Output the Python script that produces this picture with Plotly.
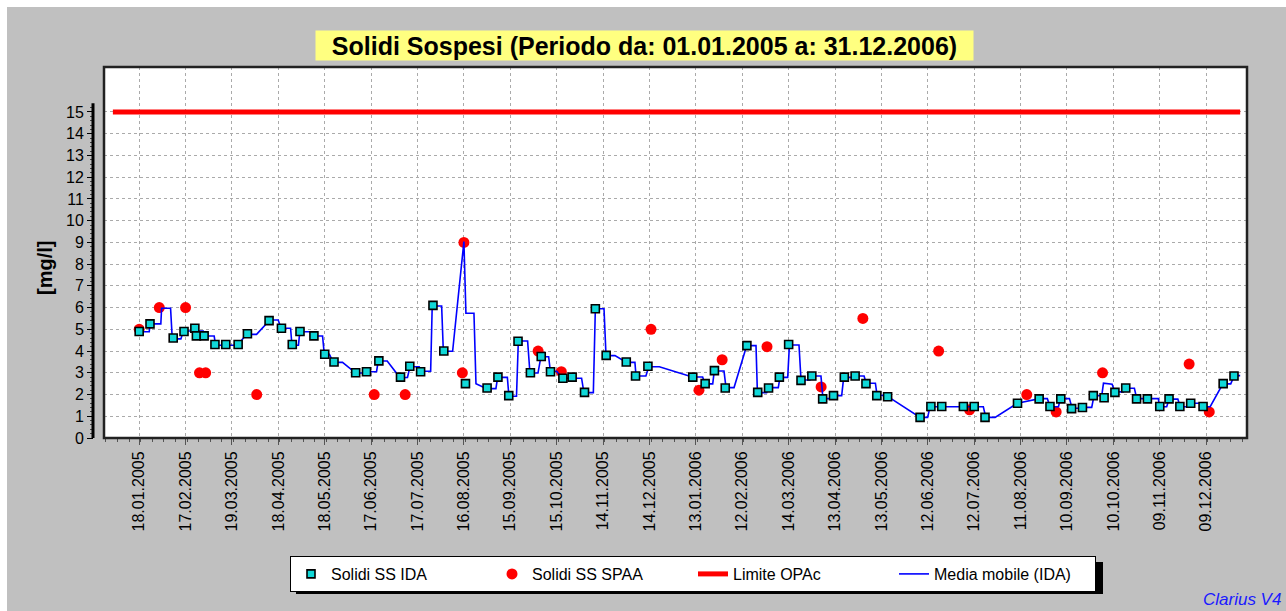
import pandas as pd
import plotly.graph_objects as go

# Solidi SS IDA (weekly samples)
ida_dates = [
    "2005-01-18", "2005-01-25", "2005-02-09", "2005-02-16", "2005-02-23", "2005-02-24", "2005-03-01", "2005-03-08", "2005-03-15", "2005-03-23",
    "2005-03-29", "2005-04-12", "2005-04-20", "2005-04-27", "2005-05-02", "2005-05-11", "2005-05-18", "2005-05-24", "2005-06-07", "2005-06-14",
    "2005-06-22", "2005-07-06", "2005-07-12", "2005-07-19", "2005-07-27", "2005-08-03", "2005-08-17", "2005-08-31", "2005-09-07", "2005-09-14",
    "2005-09-20", "2005-09-28", "2005-10-05", "2005-10-11", "2005-10-19", "2005-10-25", "2005-11-02", "2005-11-09", "2005-11-16", "2005-11-29",
    "2005-12-05", "2005-12-13", "2006-01-11", "2006-01-19", "2006-01-25", "2006-02-01", "2006-02-15", "2006-02-22", "2006-03-01", "2006-03-08",
    "2006-03-14", "2006-03-22", "2006-03-29", "2006-04-05", "2006-04-12", "2006-04-19", "2006-04-26", "2006-05-03", "2006-05-10", "2006-05-17",
    "2006-06-07", "2006-06-14", "2006-06-21", "2006-07-05", "2006-07-12", "2006-07-19", "2006-08-09", "2006-08-23", "2006-08-30", "2006-09-06",
    "2006-09-13", "2006-09-20", "2006-09-27", "2006-10-04", "2006-10-11", "2006-10-18", "2006-10-25", "2006-11-01", "2006-11-09", "2006-11-15",
    "2006-11-22", "2006-11-29", "2006-12-07", "2006-12-20", "2006-12-27",
]
ida_values = [
    4.9, 5.25, 4.6, 4.9, 5.05, 4.7, 4.7, 4.3, 4.3, 4.3,
    4.8, 5.4, 5.05, 4.3, 4.9, 4.7, 3.85, 3.5, 3.0, 3.05,
    3.55, 2.8, 3.3, 3.05, 6.1, 4.0, 2.5, 2.3, 2.8, 1.95,
    4.45, 3.0, 3.75, 3.05, 2.75, 2.8, 2.1, 5.95, 3.8, 3.5,
    2.85, 3.3, 2.8, 2.5, 3.1, 2.3, 4.25, 2.1, 2.3, 2.8,
    4.3, 2.65, 2.85, 1.8, 1.95, 2.8, 2.85, 2.5, 1.95, 1.9,
    0.95, 1.45, 1.45, 1.45, 1.45, 0.95, 1.6, 1.8, 1.45, 1.8,
    1.35, 1.4, 1.95, 1.85, 2.1, 2.3, 1.8, 1.8, 1.45, 1.8,
    1.45, 1.6, 1.45, 2.5, 2.85,
]

# Solidi SS SPAA
spaa_dates = [
    "2005-01-18", "2005-01-31", "2005-02-17", "2005-02-26", "2005-03-02", "2005-04-04", "2005-06-19", "2005-07-09", "2005-08-15", "2005-08-16",
    "2005-10-03", "2005-10-18", "2005-12-15", "2006-01-15", "2006-01-30", "2006-02-28", "2006-04-04", "2006-05-01", "2006-06-19", "2006-07-09",
    "2006-08-15", "2006-09-03", "2006-10-03", "2006-11-28", "2006-12-11",
]
spaa_values = [
    5.0, 6.0, 6.0, 3.0, 3.0, 2.0, 2.0, 2.0, 3.0, 9.0,
    4.0, 3.05, 5.0, 2.2, 3.6, 4.2, 2.35, 5.5, 4.0, 1.3,
    2.0, 1.2, 3.0, 3.4, 1.2,
]

# Limite OPAc
limit_dates = ["2005-01-01", "2006-12-31"]
limit_values = [15, 15]

# Media mobile (IDA): vertices, days since 18.01.2005
ma_days = [
    0, 6.5, 7, 14, 14.5, 20.3, 21.4, 27, 28.5, 41.4,
    42.3, 48.5, 49.4, 63.6, 69.4, 75.9, 84.5, 89.9, 91.7, 97.9,
    98.8, 103, 103.9, 111.5, 112.6, 118.6, 119.7, 123, 125.5, 131.5,
    140, 146, 147.1, 153.5, 154.6, 160.4, 168.6, 173.5, 175.1, 181.1,
    182.4, 188.5, 189.5, 195.6, 196.7, 202.7, 210, 211.3, 216.5, 217.8,
    224.7, 230.7, 231.8, 238.1, 239.1, 244, 245.2, 251.2, 252.7, 257.9,
    259.8, 264.8, 265.9, 270, 273.8, 286.1, 287.6, 293.7, 295, 300.6,
    301.9, 307.7, 315.2, 320.6, 321.3, 327.7, 329.5, 336.4, 357.7, 364.4,
    365.9, 370.9, 371.9, 378.2, 379.5, 384.7, 392.9, 398.9, 399.8, 405.8,
    407.1, 413.3, 414.4, 419.4, 420.5, 426.7, 428, 433.8, 434.9, 440.9,
    442.2, 447.8, 449.1, 454.3, 455.6, 461.9, 463.1, 468.8, 470.1, 476.1,
    477.2, 483.4, 484.5, 505, 509.9, 511.4, 545.9, 547.5, 553.5, 567.9,
    582.2, 587.3, 589.1, 594.5, 595.7, 601.6, 603.3, 609.6, 610.6, 616,
    617.5, 622.5, 623.6, 629.2, 630.9, 636.5, 638.2, 643.6, 645.1, 659.1,
    659.8, 664.5, 666, 671.7, 673.2, 679.6, 680.7, 686.5, 687.8, 692.6,
    700.8, 705.9, 708.1, 712,
]
ma_values = [
    4.89, 4.89, 5.25, 5.25, 5.97, 5.97, 4.56, 4.56, 4.92, 4.92,
    4.69, 4.69, 4.27, 4.27, 4.77, 4.77, 5.43, 5.43, 5.05, 5.05,
    4.27, 4.27, 4.89, 4.89, 4.69, 4.69, 3.85, 3.85, 3.48, 3.48,
    2.99, 2.99, 3.05, 3.05, 3.54, 3.54, 2.78, 2.79, 3.28, 3.28,
    3.07, 3.07, 6.07, 6.07, 3.99, 3.99, 9.04, 5.74, 5.74, 2.5,
    2.27, 2.27, 2.79, 2.79, 1.92, 1.92, 4.46, 4.46, 2.99, 2.99,
    3.74, 3.74, 3.07, 3.07, 2.75, 2.75, 2.09, 2.09, 5.95, 5.95,
    3.79, 3.79, 3.48, 3.48, 2.85, 2.85, 3.28, 3.28, 2.81, 2.81,
    2.49, 2.49, 3.08, 3.08, 2.32, 2.32, 4.25, 4.25, 2.09, 2.09,
    2.32, 2.32, 2.79, 2.79, 4.28, 4.28, 2.67, 2.67, 2.85, 2.85,
    1.81, 1.81, 1.95, 1.95, 2.79, 2.79, 2.85, 2.85, 2.52, 2.52,
    1.96, 1.96, 1.89, 0.95, 0.95, 1.44, 1.44, 0.95, 0.95, 1.60,
    1.81, 1.81, 1.44, 1.44, 1.81, 1.81, 1.37, 1.37, 1.41, 1.41,
    1.95, 1.95, 2.52, 2.47, 2.12, 2.12, 2.29, 2.29, 1.81, 1.81,
    1.44, 1.44, 1.79, 1.79, 1.44, 1.44, 1.60, 1.60, 1.44, 1.44,
    2.49, 2.49, 2.87, 2.87,
]
ma_dates = pd.Timestamp("2005-01-18") + pd.to_timedelta(ma_days, unit="D")

y_ticks = list(range(0, 16))

# page geometry (pixels)
W, H = 1286, 611
ML, MR, MT, MB = 80, 39, 67, 173
PW, PH = W - ML - MR, H - MT - MB


def px(x):
    return (x - ML) / PW


def py(y):
    return (H - MB - y) / PH


FONT = "Liberation Sans, Arial, sans-serif"
DAY = 86400000

fig = go.Figure()

fig.add_trace(go.Scatter(
    x=limit_dates, y=limit_values, mode="lines", name="Limite OPAc",
    line=dict(color="#ff0000", width=5), legendrank=3,
))
fig.add_trace(go.Scatter(
    x=spaa_dates, y=spaa_values, mode="markers", name="Solidi SS SPAA",
    marker=dict(color="#ff0000", size=11, line=dict(width=0)), legendrank=2,
))
fig.add_trace(go.Scatter(
    x=ma_dates, y=ma_values, mode="lines", name="Media mobile (IDA)",
    line=dict(color="#0000ff", width=1.6), legendrank=4,
))
fig.add_trace(go.Scatter(
    x=ida_dates, y=ida_values, mode="markers", name="Solidi SS IDA",
    marker=dict(symbol="square", color="#10d8d8", size=8, line=dict(color="black", width=1.6)),
    legendrank=1,
))

fig.update_layout(
    width=W, height=H,
    margin=dict(l=ML, r=MR, t=MT, b=MB),
    paper_bgcolor="white",
    plot_bgcolor="white",
    font=dict(family=FONT, color="black", size=15),
    showlegend=True,
    legend=dict(
        orientation="h", x=px(290), y=py(556), xanchor="left", yanchor="top",
        bgcolor="white", bordercolor="black", borderwidth=1,
        font=dict(size=16), entrywidth=156, entrywidthmode="pixels",
        traceorder="normal",
    ),
    xaxis=dict(
        domain=[px(104), 1],
        type="date",
        range=["2004-12-26 06:00", "2007-01-04 10:00"],
        tick0="2005-01-18", dtick=30 * DAY,
        tickformat="%d.%m.%Y", tickangle=-90,
        tickfont=dict(size=16),
        ticks="outside", ticklen=6, tickcolor="#555",
        minor=dict(ticks="outside", ticklen=3, dtick=7.5 * DAY, tickcolor="#555", showgrid=False),
        showgrid=True, gridcolor="#aaa", griddash="dot", gridwidth=1,
        showline=False, zeroline=False,
    ),
    yaxis=dict(
        range=[0, 17.07],
        anchor="free", position=px(93),
        tickmode="array", tickvals=y_ticks,
        tickfont=dict(size=16),
        ticks="outside", ticklen=6, tickcolor="black", tickwidth=1,
        minor=dict(ticks="outside", ticklen=3, tickmode="array",
                   tickvals=[i / 5 for i in range(0, 77)], tickcolor="#444", showgrid=False),
        showgrid=True, gridcolor="#aaa", griddash="dot", gridwidth=1,
        showline=False, zeroline=False,
    ),
    shapes=[
        # grey panel
        dict(type="rect", xref="paper", yref="paper", layer="below",
             x0=px(7), x1=px(W + 5), y0=py(H + 5), y1=py(7),
             fillcolor="#c0c0c0", line=dict(width=0)),
        # plot area
        dict(type="rect", xref="paper", yref="paper", layer="below",
             x0=px(104), x1=1, y0=0, y1=1, fillcolor="white", line=dict(width=0)),
        # frame
        dict(type="rect", xref="paper", yref="paper", layer="above",
             x0=px(104), x1=1, y0=0, y1=1, line=dict(color="#222", width=2.5)),
        # y axis line
        dict(type="line", xref="paper", yref="y", x0=px(93), x1=px(93), y0=0, y1=15.4,
             line=dict(color="black", width=3)),
        # legend shadow
        dict(type="rect", xref="paper", yref="paper", layer="above",
             x0=px(296), x1=px(1103), y0=py(594), y1=py(562),
             fillcolor="black", line=dict(width=0)),
    ],
    annotations=[
        dict(text="<b>Solidi Sospesi (Periodo da: 01.01.2005 a: 31.12.2006)</b>",
             xref="paper", yref="paper", x=px(644), y=py(45),
             xanchor="center", yanchor="middle", showarrow=False,
             font=dict(size=25, color="black"), bgcolor="#ffff80", borderpad=0,
             width=657, height=29),
        dict(text="<b>[mg/l]</b>", textangle=-90,
             xref="paper", yref="paper", x=px(45), y=py(268),
             xanchor="center", yanchor="middle", showarrow=False,
             font=dict(size=20, color="black")),
        dict(text="<i>Clarius V4</i>", xref="paper", yref="paper",
             x=px(1283), y=py(599), xanchor="right", yanchor="middle", showarrow=False,
             font=dict(size=17, color="#1a1aff")),
    ],
)

fig.write_html("out.html", config={"displayModeBar": False},
               post_script="document.body.style.margin='0';")
